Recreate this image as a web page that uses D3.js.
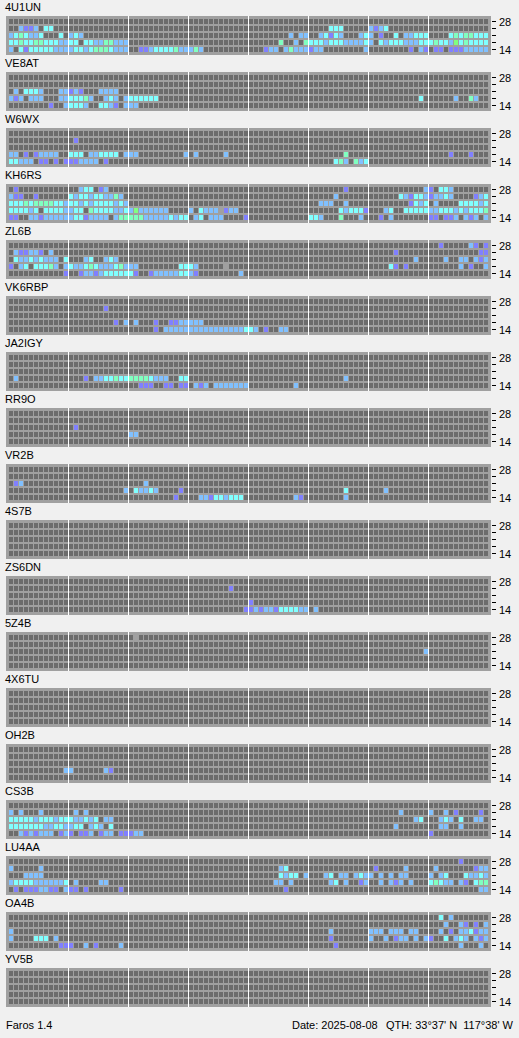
<!DOCTYPE html>
<html><head><meta charset="utf-8">
<script src="https://cdn.jsdelivr.net/npm/d3@7"></script>
<style>body{margin:0;background:#f0f0f0;}svg{display:block;}</style>
</head><body>
<script>
// ---------- data ----------
const stations = ["4U1UN","VE8AT","W6WX","KH6RS","ZL6B","VK6RBP","JA2IGY","RR9O","VR2B","4S7B","ZS6DN","5Z4B","4X6TU","OH2B","CS3B","LU4AA","OA4B","YV5B"];
const bandTicks = ["28","","","","14"];           // rows top -> bottom (28,24,21,18,14 MHz)
const levelCodes  = [".", "p", "b", "c", "m", "g", "x"];
const levelColors = ["#6c6c6c","#8080ff","#80c0ff","#80ffff","#80ffc0","#80ff80","#a0a0a0"];
const footerLeft = "Faros 1.4";
const footerDate = "Date: 2025-08-08";
const footerQth  = "QTH: 33°37' N  117°38' W";

// each row: 8 groups of 12 columns (96 time slots), '.' = no signal
const d_4U1UN = [
 "",
 "..bppb.cc... ............ ............ ............ ............ ....ccc..... bpbc........ ............",
 "bcmcbbc...c. bcb......... ............ ............ ........b.bb ..bcpcb...bc b.p..c.bbccc ....cmcmmccc",
 "ccmccmmcccbb cc.ccbbmmbbb ............ ............ ......m..b.m cccbcccbbbbc b.cbcccbbbcc cmccbgcmcccc",
 "b.cpcccccbbb bccbcmmmcbbb ..ppbccccmbb bmb......... ...pbb.bmbbb pbb........b ........p.bp .pp.pppbbbbb"];
const d_VE8AT = [
 "", "",
 ".b.cccb...bb pbp...bbbb..",
 "bpb.bbb...bb cccmb..bcb.b cccccc...... ............ ............ ............ ..........c. .....b..mb..",
 "........p..b cccb..ccbp.b bb.........."];
const d_W6WX = [
 "",
 "............ .p..........",
 "",
 "bb.p.pbbbb.. ccc.bbcccc.b bb.........b .b.....b.... ............ .......m.... ............ ....p...p...",
 "ccbbb.pp.p.p ppbbbb.p.... ............ ............ ............ .....cmb.mbc"];
const d_KH6RS = [
 ".p.......... ..bcc.pb.... ............ ............ ............ .......p.... ...........b p.ccb.......",
 "bpp..p...... cbccbccbbmb. ............ ............ ............ .....b...... ......cbpccb pbbcb....pbc",
 "cccmcmmmmccb ccbcbccccbcb ............ ............ ............ ..bbb..b.... ........pcbc .b....ccccbc",
 "ccccbc.ccccb bcc.mccccbbc bgbbbbbb.... b.cbbbxpbb.. ............ ......cbcccp ...bc..ccccc bbcccbcbcccm",
 "pp..bbpbbbbb bccpbbbb.bmm mmmbbbbbcbcc .bc.bbb....p ............ ccb...m...b. ..p.b....... pp.ppb.bpb.b"];
const d_ZL6B = [
 "............ ............ ............ ............ ............ ............ ............ ..p.....bp.p",
 ".bppbbp.b... ............ ............ ............ ............ ............ .....p...... ..........pp",
 ".cbbcbcbbb.c ...bc..bcb.. ............ ............ ............ ............ .........b.. ...b..bb.bpb",
 "p.bc.cccmb.b cbbcmcbbbcmb bb........cc cb.....x.... ............ ............ ....cp.p.... ......b.p..b",
 "...........p ..pbbpbccccc cp..pbbbbbcc bp........b."];
const d_VK6RBP = [
 "",
 "............ .......p....",
 "",
 "............ .........p.b .b...p..ppbb bbb.........",
 "............ ............ .....p.bbbbb bbbbbbbbbbbc cb.p..bb...."];
const d_JA2IGY = [
 "", "", "",
 ".b.......... ...p.bbccmcc mmmmcbbb..cc ............ ............ .......b....",
 "............ ............ ..ppp..pp.pp .bpb.bbbbbbb .........b.."];
const d_RR9O = [
 "", "",
 "............ .p..........",
 "............ ............ bb..........",
 ""];
const d_VR2B = [
 "", "",
 ".pb......... ............ ...b........",
 "............ ...........b .cbbcb....p. ............ ............ .......c.... ...b........",
 "............ ............ .........p.. ..bbpccbccc. .........bp. .......b...."];
const d_4S7B = ["", "", "", "", ""];
const d_ZS6DN = [
 "",
 "............ ............ ............ ........p...",
 "",
 "............ ............ ............ ............ p...........",
 "............ ............ ............ ...........p pbpbbpccccbb .b.........."];
const d_5Z4B = [
 "............ ............ .x..........",
 "",
 "............ ............ ............ ............ ............ ............ ...........b",
 "", ""];
const d_4X6TU = ["", "", "", "", ""];
const d_OH2B = [
 "", "", "",
 "...........b b......bp...",
 ""];
const d_CS3B = [
 "",
 "b.b...b..... .b.b........ ............ ............ ............ ............ ......b..... b..b.p....p.",
 "cccccbcccbcc cbbcbc.bb... ............ ............ ............ ............ .........bc. ..bcb.c..bb.",
 "cccccccbbccb bcc.bcb.c... ............ ............ ............ ............ .....b...... ..bb..b.....",
 "..bpbpbbb.pb p.ppb.pbb.pp pbb......... ............ ............ ............ ............ p..........."];
const d_LU4AA = [
 "............ ............ ............ ............ ............ ............ ............ ......p.....",
 "b.....b..... ............ ............ ............ ......bc.... ............ .p.....b.... .b.......pbb",
 "...bbbb..... ............ ............ ............ ......cbcc.b ...bc.bb.bcb b.b.b.bb.... b.bc...cbbcb",
 "bccccbbbbbbc .b....bb.... ............ ............ .....bb.b... ....bc.b..pb ..b.bpb.b... cmcbb.bp.cmm",
 ".p.pppbbpp.b pp.p......p. ............ ............ .......p.... ............ ............ ..........bb"];
const d_OA4B = [
 "............ ............ ............ ............ ............ ............ ............ ..c.b.......",
 "............ ............ ............ ............ ............ ............ ............ ...b..bp.p.b",
 "b........... ............ ............ ............ ............ ....b....... bbb.bbb.bb.. ..b.p.bbcpbb",
 "b....ccc.b.. ............ ............ ............ ............ ....p....... b..b.pbb.b.b p..c.bcb.bpb",
 "..........pp p..b.p....b. ............ ............ ............ .....p...... ............ ......b...b."];
const d_YV5B = ["", "", "", "", ""];

const stationData = [d_4U1UN,d_VE8AT,d_W6WX,d_KH6RS,d_ZL6B,d_VK6RBP,d_JA2IGY,d_RR9O,d_VR2B,d_4S7B,d_ZS6DN,d_5Z4B,d_4X6TU,d_OH2B,d_CS3B,d_LU4AA,d_OA4B,d_YV5B];

// ---------- drawing ----------
const W = 519, H = 1038;
const nSections = 8, perSection = 12, nCols = nSections * perSection;
const FONT = "'Liberation Sans', Arial, sans-serif";

const svg = d3.select("body").append("svg").attr("width", W).attr("height", H)
  .style("background", "#f0f0f0");

const x = d3.scaleLinear().domain([0, nCols]).range([8, 488]);
const yPanel = d3.scaleBand().domain(stations).range([16, 16 + 56 * stations.length]);
const yRow = d3.scaleLinear().domain([0, bandTicks.length]).range([3, 38]);
const color = d3.scaleOrdinal().domain(levelCodes).range(levelColors);

function parseRow(s) {
  const groups = s.split(/\s+/).filter(g => g.length);
  const out = [];
  for (let g = 0; g < nSections; g++) {
    const grp = (groups[g] || "").padEnd(perSection, ".").slice(0, perSection);
    out.push(...grp);
  }
  return out;
}

stations.forEach((name, i) => {
  const g = svg.append("g").attr("transform", `translate(0,${yPanel(name)})`);
  g.append("rect").attr("x", 6).attr("y", 0).attr("width", 485).attr("height", 39).attr("fill", "#a0a0a0");

  const cells = [];
  stationData[i].map(parseRow).forEach((row, r) => row.forEach((ch, c) => cells.push({ r, c, ch })));
  g.selectAll("rect.cell").data(cells).join("rect").attr("class", "cell")
    .attr("x", d => x(d.c) + 1).attr("y", d => yRow(d.r))
    .attr("width", x(1) - x(0) - 1).attr("height", 5)
    .attr("fill", d => color(d.ch));

  g.selectAll("line.sec").data(d3.range(1, nSections)).join("line").attr("class", "sec")
    .attr("x1", k => x(k * perSection) + 0.5).attr("x2", k => x(k * perSection) + 0.5)
    .attr("y1", 0).attr("y2", 39).attr("stroke", "#ffffff").attr("stroke-width", 1);

  g.append("text").attr("x", 5).attr("y", -5).attr("font-family", FONT).attr("font-size", 11)
    .attr("fill", "#000").text(name);

  g.selectAll("rect.tick").data(bandTicks).join("rect").attr("class", "tick")
    .attr("x", 492).attr("y", (t, r) => Math.round(yRow(r)) + 2).attr("width", 4).attr("height", 1)
    .attr("fill", "#000");
  g.selectAll("text.tl").data(bandTicks.map((t, r) => ({ t, r })).filter(d => d.t)).join("text").attr("class", "tl")
    .attr("x", 499).attr("y", d => yRow(d.r) + 7).attr("font-family", FONT).attr("font-size", 11)
    .attr("fill", "#000").text(d => d.t);
});

svg.append("text").attr("x", 6).attr("y", 1029).attr("font-family", FONT).attr("font-size", 11).text(footerLeft);
svg.append("text").attr("x", 292).attr("y", 1029).attr("font-family", FONT).attr("font-size", 11).text(footerDate);
svg.append("text").attr("x", 513).attr("y", 1029).attr("text-anchor", "end").attr("font-family", FONT)
  .attr("font-size", 11).attr("xml:space", "preserve").style("white-space", "pre").text(footerQth);
</script>
</body></html>
